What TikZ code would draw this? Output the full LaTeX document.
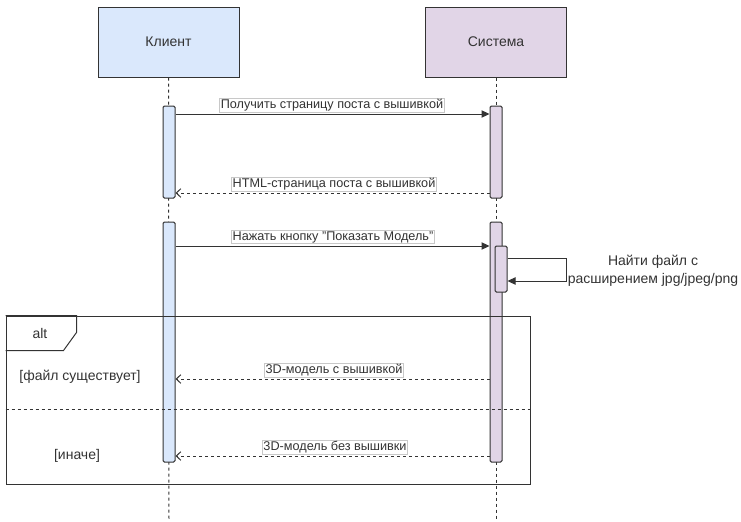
\documentclass[tikz,border=0pt]{standalone}
\usepackage{fontspec}
\setmainfont{Liberation Sans}
\usetikzlibrary{arrows.meta}
\definecolor{clientfill}{HTML}{DAE8FC}
\definecolor{systemfill}{HTML}{E1D5E7}
\definecolor{ink}{HTML}{333333}
\definecolor{tagline}{HTML}{C8C8C8}
\tikzset{
  px/.style={x=0.75pt,y=-0.75pt},
  participant/.style={draw=ink,line width=0.75pt,minimum width=105.75pt,minimum height=52.5pt,
    inner sep=0pt,font=\fontsize{10.5}{12}\selectfont,text=ink},
  actbar/.style={draw=ink,line width=0.75pt,rounded corners=1pt,minimum width=9pt,inner sep=0pt},
  lifeline/.style={draw=ink,line width=0.75pt,dash pattern=on 2.25pt off 2.25pt},
  callmsg/.style={draw=ink,line width=0.75pt,-{Triangle[length=6pt,width=5.5pt]}},
  replymsg/.style={draw=ink,line width=0.75pt,dash pattern=on 2.25pt off 2.25pt,
    -{Straight Barb[length=3.5pt,width=6.5pt]}},
  msglabel/.style={fill=white,draw=tagline,line width=0.4pt,inner sep=0.8pt,
    font=\fontsize{9.5}{11}\selectfont,text=ink},
  plain/.style={font=\fontsize{10.5}{12}\selectfont,text=ink,inner sep=0pt,align=center},
  note/.style={font=\fontsize{10.5}{13.5}\selectfont,text=ink,inner sep=0pt,align=center}
}
\begin{document}
\begin{tikzpicture}[px]
\useasboundingbox (0,0) rectangle (741,521);

% participants
\node[participant,fill=clientfill] (client) at (168.5,42) {Клиент};
\node[participant,fill=systemfill] (system) at (496,42) {Система};

% lifelines
\coordinate (clientEnd) at (169,521);
\coordinate (systemEnd) at (496,521);
\draw[lifeline] (client.south) -- (clientEnd);
\draw[lifeline] (system.south) -- (systemEnd);

% activation bars
\node[actbar,fill=clientfill,minimum height=69pt] (actC1) at (169,152) {};
\node[actbar,fill=systemfill,minimum height=69pt] (actS1) at (496,152) {};
\node[actbar,fill=clientfill,minimum height=180pt] (actC2) at (169,342) {};
\node[actbar,fill=systemfill,minimum height=180pt] (actS2) at (496,342) {};
\node[actbar,fill=systemfill,minimum height=34.5pt] (actS3) at (501,269) {};

% request for the post page
\draw[callmsg] (actC1.east |- 0,114) -- (actS1.west |- 0,114);
\node[msglabel] (m1) at (332,105) {Получить страницу поста с вышивкой};

% page returned
\draw[replymsg] (actS1.west |- 0,193) -- (actC1.east |- 0,193);
\node[msglabel] (m2) at (334,184) {HTML-страница поста с вышивкой};

% show model
\draw[callmsg] (actC2.east |- 0,246) -- (actS2.west |- 0,246);
\node[msglabel] (m3) at (333,237) {Нажать кнопку "Показать Модель"};

% self call: search for the file
\draw[callmsg] (actS3.east |- 0,258) -- ++(59,0) |- (actS3.east |- 0,281);
\node[note] (m4) at (653,271) {Найти файл с\\расширением jpg/jpeg/png};

% alt fragment
\node[draw=ink,line width=0.75pt,minimum width=393pt,minimum height=126pt,inner sep=0pt]
  (frame) at (268,400) {};
\draw[ink,line width=0.75pt] (frame.north west) -- ++(71,0) -- ++(0,17) -- ++(-13,18) -- ++(-58,0);
\node[plain] (altTag) at (40,333) {alt};
\draw[lifeline] (frame.west |- 0,409) -- (frame.east |- 0,409);
\node[plain] (g1) at (80,377) {[файл существует]};
\node[plain] (g2) at (77,456) {[иначе]};

% replies
\draw[replymsg] (actS2.west |- 0,379) -- (actC2.east |- 0,379);
\node[msglabel] (m5) at (334,370) {3D-модель с вышивкой};
\draw[replymsg] (actS2.west |- 0,456) -- (actC2.east |- 0,456);
\node[msglabel] (m6) at (335,447) {3D-модель без вышивки};
\end{tikzpicture}
\end{document}
